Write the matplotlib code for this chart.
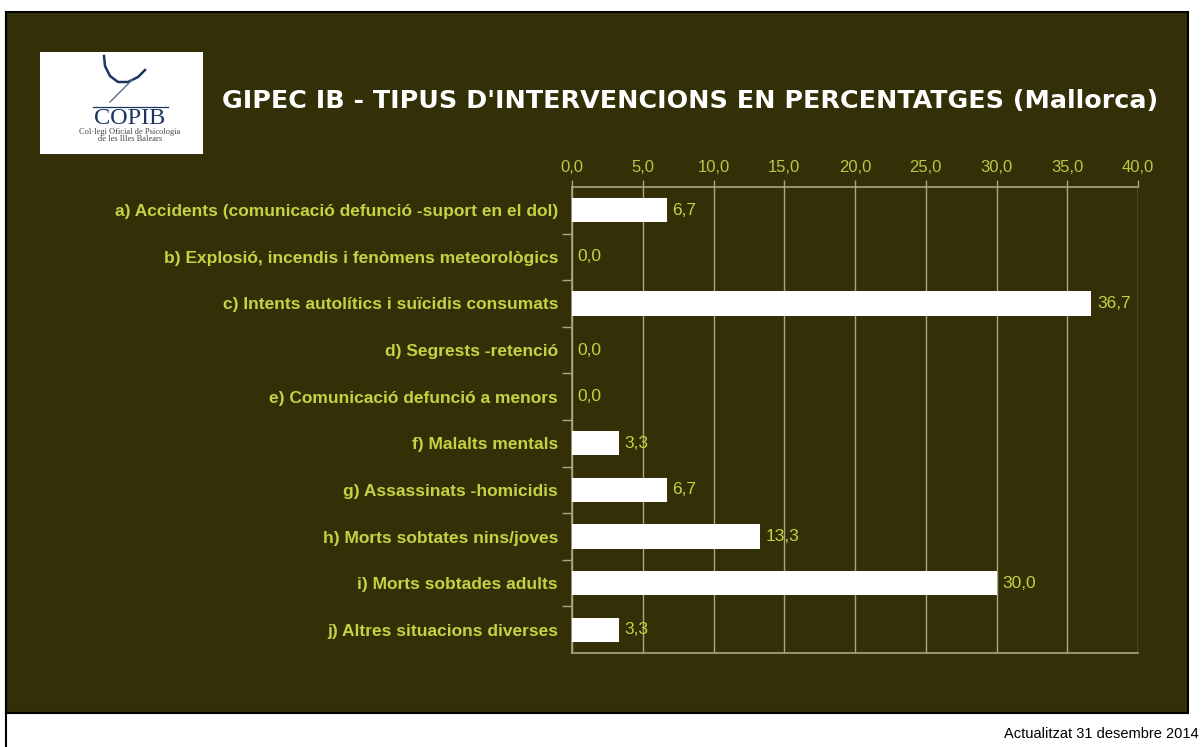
import matplotlib.pyplot as plt
from matplotlib.patches import Rectangle
from matplotlib.ticker import MultipleLocator, FixedLocator

# Data
categories = [
    "a) Accidents (comunicació defunció -suport en el dol)",
    "b) Explosió, incendis i fenòmens meteorològics",
    "c) Intents autolítics i suïcidis consumats",
    "d) Segrests -retenció",
    "e) Comunicació defunció a menors",
    "f) Malalts mentals",
    "g) Assassinats -homicidis",
    "h) Morts sobtates nins/joves",
    "i) Morts sobtades adults",
    "j) Altres situacions diverses",
]
values = [6.7, 0.0, 36.7, 0.0, 0.0, 3.3, 6.7, 13.3, 30.0, 3.3]
title = "GIPEC IB - TIPUS D'INTERVENCIONS EN PERCENTATGES (Mallorca)"
footer = "Actualitzat 31 desembre 2014"

# Colours
bg = "#332f06"
label_col = "#c2d443"
tick_col = "#b8c94a"
grid_col = "#a9a784"
logo_col = "#1e3360"

plt.rcParams["font.family"] = ["Liberation Sans", "DejaVu Sans"]

W, H = 1201, 747
fig = plt.figure(figsize=(W / 100, H / 100), dpi=100)
fig.patch.set_facecolor("white")


def px(x, y):
    # pixel coords (top-left origin) -> figure fraction
    return x / W, 1 - y / H


# dark panel
panel = Rectangle(px(6, 713), (1188 - 6) / W, (713 - 12) / H,
                  transform=fig.transFigure, facecolor=bg,
                  edgecolor="black", linewidth=1.5, zorder=-10)
fig.add_artist(panel)
# left border line down through the white part
fig.add_artist(plt.Line2D([6 / W, 6 / W], [0, 1 - 12 / H], transform=fig.transFigure,
                          color="black", linewidth=1.5, zorder=-9))

# logo
fig.add_artist(Rectangle(px(40, 154), 163 / W, 102 / H,
                         transform=fig.transFigure, facecolor="white",
                         edgecolor="none", zorder=-8))
sx, sy = zip(*[px(104, 56), px(105, 66), px(110, 76), px(118, 82), px(128, 82), px(138, 77), px(145, 70)])
fig.add_artist(plt.Line2D(sx, sy, transform=fig.transFigure, color=logo_col, linewidth=1.8))
sx, sy = zip(*[px(132, 80), px(124, 88), px(116, 96), px(110, 102)])
fig.add_artist(plt.Line2D(sx, sy, transform=fig.transFigure, color="#5a6a8a", linewidth=1.0))
lx, ly = zip(px(93, 107), px(168, 107))
fig.add_artist(plt.Line2D(lx, ly, transform=fig.transFigure, color=logo_col, linewidth=0.9))
fig.text(*px(130, 119), "COPIB", fontsize=17.5, family="Liberation Serif",
         color=logo_col, ha="center", va="center")
fig.text(*px(130, 132), "Col·legi Oficial de Psicologia", fontsize=6,
         family="Liberation Serif", color="#444444", ha="center", va="center")
fig.text(*px(130, 139), "de les Illes Balears", fontsize=6,
         family="Liberation Serif", color="#444444", ha="center", va="center")

# title
fig.text(*px(222, 101), title, fontsize=18.3, fontweight="bold",
         family="DejaVu Sans", color="white", ha="left", va="center")

# footer
fig.text(*px(1199, 734), footer, fontsize=10.5, color="black",
         ha="right", va="center")

# chart
x0, x1, y0, y1 = 572, 1138, 187, 653
ax = fig.add_axes([x0 / W, 1 - y1 / H, (x1 - x0) / W, (y1 - y0) / H])
ax.set_facecolor("none")
y = list(range(len(categories)))
ax.barh(y, values, height=0.52, color="white", zorder=3)
ax.set_xlim(0, 40)
ax.set_ylim(len(categories) - 0.5, -0.5)

ax.xaxis.set_major_locator(MultipleLocator(5))
ax.xaxis.tick_top()
ax.set_xticklabels([f"{v:.1f}".replace(".", ",") for v in ax.get_xticks()])
ax.tick_params(axis="x", colors=grid_col, labelcolor=tick_col, labelsize=12,
               length=5, width=1, pad=4)
ax.grid(axis="x", color=grid_col, linewidth=1, zorder=1)

ax.set_yticks(y)
ax.set_yticklabels(categories)
ax.yaxis.set_minor_locator(FixedLocator([i + 0.5 for i in y[:-1]]))
ax.tick_params(axis="y", which="major", length=0, pad=10,
               labelcolor=label_col, labelsize=12.5)
ax.tick_params(axis="y", which="minor", length=7, color=grid_col, width=1)
for lab in ax.get_yticklabels():
    lab.set_fontweight("bold")

for s in ["left", "top", "bottom"]:
    ax.spines[s].set_color(grid_col)
    ax.spines[s].set_linewidth(1.2)
ax.spines["right"].set_visible(False)

for yi, v in zip(y, values):
    ax.text(v + 0.4, yi, f"{v:.1f}".replace(".", ","), color=label_col,
            fontsize=12.5, va="center", ha="left", zorder=4)

fig.savefig("out.png", dpi=100, facecolor=fig.get_facecolor())
